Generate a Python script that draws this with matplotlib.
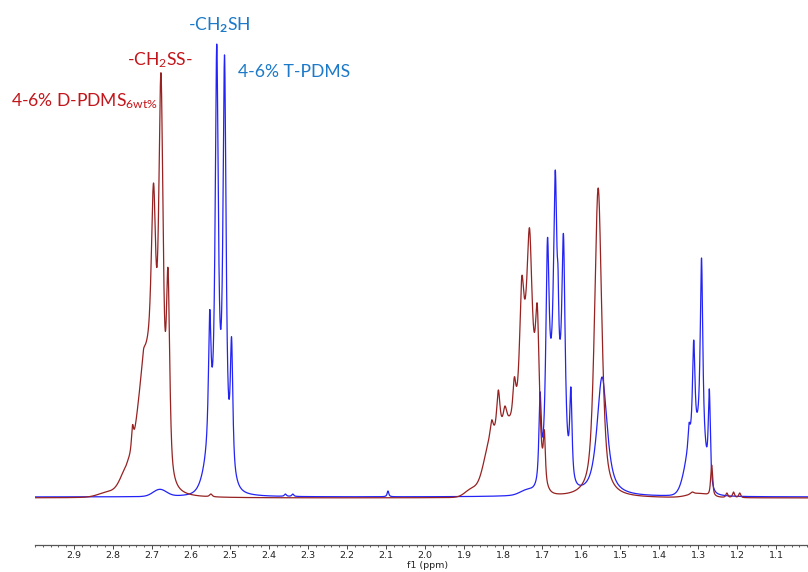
import numpy as np
import matplotlib
matplotlib.use("Agg")
import matplotlib.pyplot as plt
from matplotlib.ticker import MultipleLocator

# ---------------- data ----------------
# axis tick labels (ppm)
tick_labels = ["2.9", "2.8", "2.7", "2.6", "2.5", "2.4", "2.3", "2.2", "2.1",
               "2.0", "1.9", "1.8", "1.7", "1.6", "1.5", "1.4", "1.3", "1.2", "1.1"]

# 4-6% D-PDMS(6wt%) spectrum: resolved peaks (ppm, observed height, half width)
red_peak_ppm = [2.767, 2.750, 2.722, 2.696, 2.677, 2.659, 2.549,
                1.829, 1.812, 1.795, 1.771, 1.752, 1.732, 1.712, 1.694,
                1.556, 1.315, 1.265, 1.226, 1.209, 1.193]
red_peak_height = [31, 72, 147, 314, 424, 229, 3,
                   77, 107, 91, 120, 220, 269, 192, 67,
                   309, 5, 32, 4, 5, 4]
red_peak_hw = [0.003, 0.003, 0.004, 0.0068, 0.0068, 0.0052, 0.004,
               0.0045, 0.0048, 0.0048, 0.0045, 0.0058, 0.0066, 0.0055, 0.003,
               0.011, 0.005, 0.003, 0.003, 0.003, 0.003]
# broad envelopes under the multiplets (ppm, amplitude, half width)
red_base_ppm = [2.810, 2.765, 2.715, 1.880, 1.835, 1.790, 1.735, 1.300]
red_base_amp = [5, 22, 130, 8, 40, 70, 150, 4]
red_base_hw = [0.030, 0.020, 0.025, 0.020, 0.020, 0.030, 0.022, 0.030]
red_offset = -1.0

# 4-6% T-PDMS spectrum
blue_peak_ppm = [2.552, 2.534, 2.514, 2.496, 2.358, 2.339, 2.095,
                 1.705, 1.686, 1.666, 1.659, 1.645, 1.626, 1.546,
                 1.323, 1.311, 1.291, 1.271]
blue_peak_height = [187, 453, 442, 160, 3, 3, 6,
                    105, 259, 327, 230, 263, 110, 120,
                    74, 157, 239, 108]
blue_peak_hw = [0.0038, 0.0046, 0.0046, 0.0038, 0.003, 0.003, 0.0025,
                0.0035, 0.0048, 0.0048, 0.002, 0.0048, 0.0035, 0.0155,
                0.003, 0.0037, 0.0037, 0.0032]
blue_base_ppm = [2.680, 2.535, 1.740, 1.666, 1.315, 1.290]
blue_base_amp = [7, 60, 4, 110, 50, 40]
blue_base_hw = [0.020, 0.025, 0.020, 0.020, 0.020, 0.012]
blue_offset = 0.0

labels = {
    "red_name": r"4-6% D-PDMS$_{\mathrm{6wt\%}}$",
    "red_group": r"-CH$_{\mathrm{2}}$SS-",
    "blue_group": r"-CH$_{\mathbf{2}}$SH",
    "blue_name": "4-6% T-PDMS",
}

# ---------------- line shapes ----------------
def gauss(x, c, hw):
    return np.exp(-np.log(2) * ((x - c) / hw) ** 2)

def lorentz(x, c, hw):
    return 1.0 / (1.0 + ((x - c) / hw) ** 2)

def pvoigt(x, c, hw, eta):
    return eta * lorentz(x, c, hw) + (1 - eta) * gauss(x, c, hw)

def spectrum(x, pk, ph, pw, bp, ba, bw, off, eta):
    pk, ph, pw = map(np.asarray, (pk, ph, pw))
    base = lambda z: sum(a * gauss(z, c, w) for c, a, w in zip(bp, ba, bw)) + off
    M = np.array([[pvoigt(pi, pj, wj, eta) for pj, wj in zip(pk, pw)] for pi in pk])
    amps = np.linalg.solve(M, ph - base(pk))
    y = base(x)
    for c, a, w in zip(pk, amps, pw):
        y = y + a * pvoigt(x, c, w, eta)
    return y

x = np.linspace(3.05, 0.95, 12000)
y_red = spectrum(x, red_peak_ppm, red_peak_height, red_peak_hw,
                 red_base_ppm, red_base_amp, red_base_hw, red_offset, 0.65)
y_blue = spectrum(x, blue_peak_ppm, blue_peak_height, blue_peak_hw,
                  blue_base_ppm, blue_base_amp, blue_base_hw, blue_offset, 0.8)

# ---------------- figure ----------------
plt.rcParams["mathtext.fontset"] = "custom"
plt.rcParams["mathtext.rm"] = "Lato"
plt.rcParams["mathtext.it"] = "Lato:italic"
plt.rcParams["mathtext.bf"] = "Lato:bold"

W, H = 808, 572
fig = plt.figure(figsize=(W / 100, H / 100), dpi=100)
ax = fig.add_axes([35 / W, 27 / H, 1 - 35 / W, 1 - 27 / H])
ax.plot(x, y_blue, color="#2323F5", lw=0.9)
ax.plot(x, y_red, color="#962222", lw=0.9)
ax.set_xlim(3.0, 1.018)
ax.set_ylim(-48, 497)

for s in ("top", "left", "right"):
    ax.spines[s].set_visible(False)
ax.spines["bottom"].set_color("#555555")
ax.spines["bottom"].set_linewidth(0.9)
ax.set_yticks([])
ax.set_xticks([float(t) for t in tick_labels])
ax.set_xticklabels(tick_labels)
ax.xaxis.set_minor_locator(MultipleLocator(0.02))
ax.tick_params(axis="x", which="major", direction="out", length=3, width=0.7,
               color="#444444", labelsize=6.8, pad=1.5, labelcolor="#222222")
ax.tick_params(axis="x", which="minor", direction="out", length=1.6, width=0.6,
               color="#444444")
fig.text(428 / W, 1 - 565 / H, "f1 (ppm)", ha="center", va="center",
         fontsize=6.8, color="#222222")

red_txt = "#C3161C"
blue_txt = "#1C7AC8"
fkw = dict(family="Lato", fontsize=12.6, va="baseline", ha="left")
fig.text(11 / W, 1 - 106 / H, labels["red_name"], color=red_txt, **fkw)
fig.text(127 / W, 1 - 65 / H, labels["red_group"], color=red_txt, **fkw)
fig.text(188 / W, 1 - 30 / H, labels["blue_group"], color=blue_txt, **fkw)
fig.text(238 / W, 1 - 77 / H, labels["blue_name"], color=blue_txt, **fkw)

fig.savefig("out.png", dpi=100)
